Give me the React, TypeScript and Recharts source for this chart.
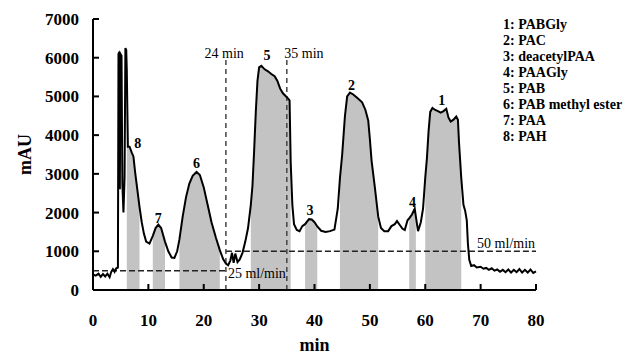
import {
  ComposedChart,
  Line,
  Area,
  XAxis,
  YAxis,
  ReferenceLine,
  ReferenceDot,
} from "recharts";

const FONT = '"Liberation Serif", "Times New Roman", serif';

// chromatogram trace
const RUN_MIN = [
  0, 0.5, 1.0, 1.4, 1.8, 2.2, 2.6, 3.0, 3.3, 3.6, 3.9, 4.2, 4.5, 4.6, 4.75, 4.85, 4.95, 5.15,
  5.3, 5.5, 5.7, 5.85, 6.0, 6.1, 6.3, 6.6, 7.0, 7.3, 7.6, 8.0, 8.4, 8.8, 9.2, 9.6, 10.2, 10.8,
  11.3, 11.8, 12.3, 13.0, 13.6, 14.2, 14.7, 15.2, 15.6, 16.2, 16.8, 17.4, 18.0, 18.7, 19.3,
  20.0, 20.7, 21.4, 22.2, 22.9, 23.5, 24.0, 24.4, 24.8, 25.1, 25.4, 25.7, 26.1, 26.5, 27.0,
  27.5, 28.0, 28.5, 28.8, 29.1, 29.4, 29.7, 30.0, 30.4, 31.0, 31.6, 32.2, 32.8, 33.3, 33.8,
  34.3, 35.0, 35.5, 35.7, 36.0, 36.3, 36.8, 37.3, 37.8, 38.3, 39.0, 39.5, 40.0, 40.5, 41.2,
  42.0, 42.8, 43.6, 44.2, 44.6, 45.0, 45.5, 45.9, 46.4, 47.0, 47.8, 48.6, 49.2, 49.7, 50.0,
  50.3, 50.9, 51.5, 52.0, 52.6, 53.3, 53.9, 54.5, 54.9, 55.4, 55.9, 56.3, 56.8, 57.1, 57.6,
  58.1, 58.3, 58.7, 59.2, 59.6, 60.0, 60.3, 60.6, 60.9, 61.3, 61.8, 62.3, 62.8, 63.3, 63.8,
  64.2, 64.6, 65.1, 65.6, 65.9, 66.1, 66.5, 66.9, 67.2, 67.5, 67.7, 67.95, 68.3, 68.8, 69.3,
  70.0, 70.5, 71.0, 71.5, 72.0, 72.5, 73.0, 73.5, 74.0, 74.5, 75.0, 75.5, 76.0, 76.5, 77.0,
  77.5, 78.0, 78.5, 79.0, 79.5, 80.0,
];

const SIGNAL_MAU = [
  400, 370, 420, 340, 410, 350, 420, 330, 470, 540, 470, 560, 580, 6100, 6150, 2600, 6100, 6050,
  2750, 2000, 2900, 6250, 6200, 5700, 3700, 3700, 3550, 3450, 3050, 2600, 2150, 1750, 1450, 1250, 1200, 1400,
  1600, 1690, 1600, 1250, 1000, 840, 830, 1000, 1300, 1900, 2400, 2750, 2950, 3050, 2970,
  2650, 2200, 1750, 1350, 1030, 800, 680, 640, 760, 960, 700, 940, 720, 790, 960,
  1250, 1600, 2200, 2700, 3600, 4600, 5400, 5750, 5790, 5700, 5650, 5580, 5520, 5400, 5200,
  5080, 4980, 4900, 3300, 2200, 1700, 1550, 1520, 1650, 1700, 1830, 1820, 1750, 1640, 1530,
  1500, 1520, 1560, 2100, 2900, 3500, 4500, 5000, 5100, 5050, 4950, 4850, 4650, 4380, 3900,
  3350, 2650, 1900, 1600, 1520, 1520, 1650, 1700, 1780, 1680, 1580, 1550, 1800, 1850, 1950,
  2100, 1900, 1520, 1750, 2100, 2900, 3400, 4100, 4600, 4700, 4650, 4620, 4580, 4620, 4680,
  4450, 4350, 4400, 4480, 4400, 3800, 2900, 2200, 2050, 1800, 1200, 780, 620, 640, 580,
  600, 550, 570, 520, 560, 500, 530, 470, 520, 460, 530, 450, 520, 460, 540,
  450, 520, 450, 530, 440, 480,
];

// collected fractions (start, end in min)
const FRACTION_START = [6.1, 10.8, 15.6, 28.5, 38.3, 44.6, 57.1, 60.0];
const FRACTION_END = [8.4, 13.0, 22.9, 35.7, 40.5, 51.5, 58.3, 66.5];

// peak numbers and where they sit (min, mAU)
const PEAK_IDS = ["8", "7", "6", "5", "3", "2", "4", "1"];
const PEAK_MIN = [8.1, 11.8, 18.7, 31.4, 39.2, 46.7, 57.7, 63.0];
const PEAK_MAU = [3800, 1870, 3290, 6070, 2070, 5300, 2280, 4910];

// flow rate steps drawn as dashed levels
const FLOW_FROM = [0, 24];
const FLOW_TO = [24, 80];
const FLOW_LEVEL = [500, 1000];
const FLOW_LABEL = ["25 ml/min", "50 ml/min"];
const FLOW_LABEL_AT = [[29.6, 430], [74.6, 1210]];

// time markers
const MARKER_MIN = [24, 35];
const MARKER_LABEL = ["24 min", "35 min"];
const MARKER_LABEL_MIN = [23.7, 38.1];

const COMPOUNDS = [
  "PABGly",
  "PAC",
  "deacetylPAA",
  "PAAGly",
  "PAB",
  "PAB methyl ester",
  "PAA",
  "PAH",
];

const X_TICKS = [0, 10, 20, 30, 40, 50, 60, 70, 80];
const Y_TICKS = [0, 1000, 2000, 3000, 4000, 5000, 6000, 7000];

const inFraction = (t: number) =>
  FRACTION_START.some((s, i) => t >= s && t <= FRACTION_END[i]);

const rows = RUN_MIN.map((t, i) => ({
  t,
  signal: SIGNAL_MAU[i],
  shade: inFraction(t) ? SIGNAL_MAU[i] : null,
}));

const X_GAP = 24;
const Y_GAP = 14;
const TICK_LEN = 6;

// ticks point into the plot, so draw them ourselves next to the label
function XTick(props: any) {
  const { x, y, payload } = props;
  return (
    <g>
      <path d={`M${x},${y - X_GAP}V${y - X_GAP - TICK_LEN}`} stroke="#000" strokeWidth={2} fill="none" />
      <text x={x} y={y} dy="0.71em" textAnchor="middle" fill="#000" fontSize={17} fontWeight="bold" fontFamily={FONT}>
        {payload.value}
      </text>
    </g>
  );
}

function YTick(props: any) {
  const { x, y, payload } = props;
  return (
    <g>
      <path d={`M${x + Y_GAP},${y}H${x + Y_GAP + TICK_LEN}`} stroke="#000" strokeWidth={2} fill="none" />
      <text x={x} y={y} dy="0.355em" textAnchor="end" fill="#000" fontSize={17} fontWeight="bold" fontFamily={FONT}>
        {payload.value}
      </text>
    </g>
  );
}

export default function App() {
  return (
    <div style={{ position: "absolute", left: 0, top: 0, width: 633, height: 356, background: "#fff" }}>
      <ComposedChart
        width={633}
        height={356}
        data={rows}
        margin={{ top: 19, right: 97, bottom: 0, left: 33 }}
      >
        <XAxis
          dataKey="t"
          type="number"
          domain={[0, 80]}
          ticks={X_TICKS}
          height={66}
          tickSize={0}
          tickMargin={X_GAP}
          tick={(p: any) => <XTick {...p} />}
          tickLine={false}
          stroke="#000"
          strokeWidth={2}
          label={{
            value: "min",
            position: "insideBottom",
            offset: 5,
            fill: "#000",
            fontSize: 18,
            fontWeight: "bold",
            fontFamily: FONT,
          }}
        />
        <YAxis
          type="number"
          domain={[0, 7000]}
          ticks={Y_TICKS}
          width={60}
          tickSize={0}
          tickMargin={Y_GAP}
          tick={(p: any) => <YTick {...p} />}
          tickLine={false}
          stroke="#000"
          strokeWidth={2}
          label={{
            value: "mAU",
            angle: -90,
            position: "insideLeft",
            offset: -8,
            fill: "#000",
            fontSize: 18,
            fontWeight: "bold",
            fontFamily: FONT,
            style: { textAnchor: "middle" },
          }}
        />
        <Area
          dataKey="shade"
          type="linear"
          stroke="none"
          fill="#c3c3c3"
          fillOpacity={1}
          connectNulls={false}
          isAnimationActive={false}
        />
        {FLOW_LEVEL.map((lvl, i) => (
          <ReferenceLine
            key={"flow" + i}
            segment={[
              { x: FLOW_FROM[i], y: lvl },
              { x: FLOW_TO[i], y: lvl },
            ]}
            stroke="#222"
            strokeWidth={1.5}
            strokeDasharray="6 3"
          />
        ))}
        {MARKER_MIN.map((m) => (
          <ReferenceLine
            key={"mk" + m}
            segment={[
              { x: m, y: 0 },
              { x: m, y: 5950 },
            ]}
            stroke="#444"
            strokeWidth={1.5}
            strokeDasharray="5 4"
          />
        ))}
        <Line
          dataKey="signal"
          type="linear"
          stroke="#000"
          strokeWidth={2}
          dot={false}
          isAnimationActive={false}
        />
        {PEAK_IDS.map((id, i) => (
          <ReferenceDot
            key={"pk" + id}
            x={PEAK_MIN[i]}
            y={PEAK_MAU[i]}
            r={0}
            stroke="none"
            label={{
              value: id,
              position: "center",
              fill: "#000",
              fontSize: 14,
              fontWeight: "bold",
              fontFamily: FONT,
            }}
          />
        ))}
        {MARKER_LABEL.map((txt, i) => (
          <ReferenceDot
            key={"ml" + i}
            x={MARKER_LABEL_MIN[i]}
            y={6120}
            r={0}
            stroke="none"
            label={{ value: txt, position: "center", fill: "#000", fontSize: 14, fontFamily: FONT }}
          />
        ))}
        {FLOW_LABEL.map((txt, i) => (
          <ReferenceDot
            key={"fl" + i}
            x={FLOW_LABEL_AT[i][0]}
            y={FLOW_LABEL_AT[i][1]}
            r={0}
            stroke="none"
            label={{ value: txt, position: "center", fill: "#000", fontSize: 14, fontFamily: FONT }}
          />
        ))}
      </ComposedChart>
      <div
        style={{
          position: "absolute",
          left: 503,
          top: 17,
          fontFamily: FONT,
          fontWeight: "bold",
          fontSize: 14,
          lineHeight: "16px",
          whiteSpace: "nowrap",
          color: "#000",
        }}
      >
        {COMPOUNDS.map((c, i) => (
          <div key={c}>
            {i + 1}: {c}
          </div>
        ))}
      </div>
    </div>
  );
}
